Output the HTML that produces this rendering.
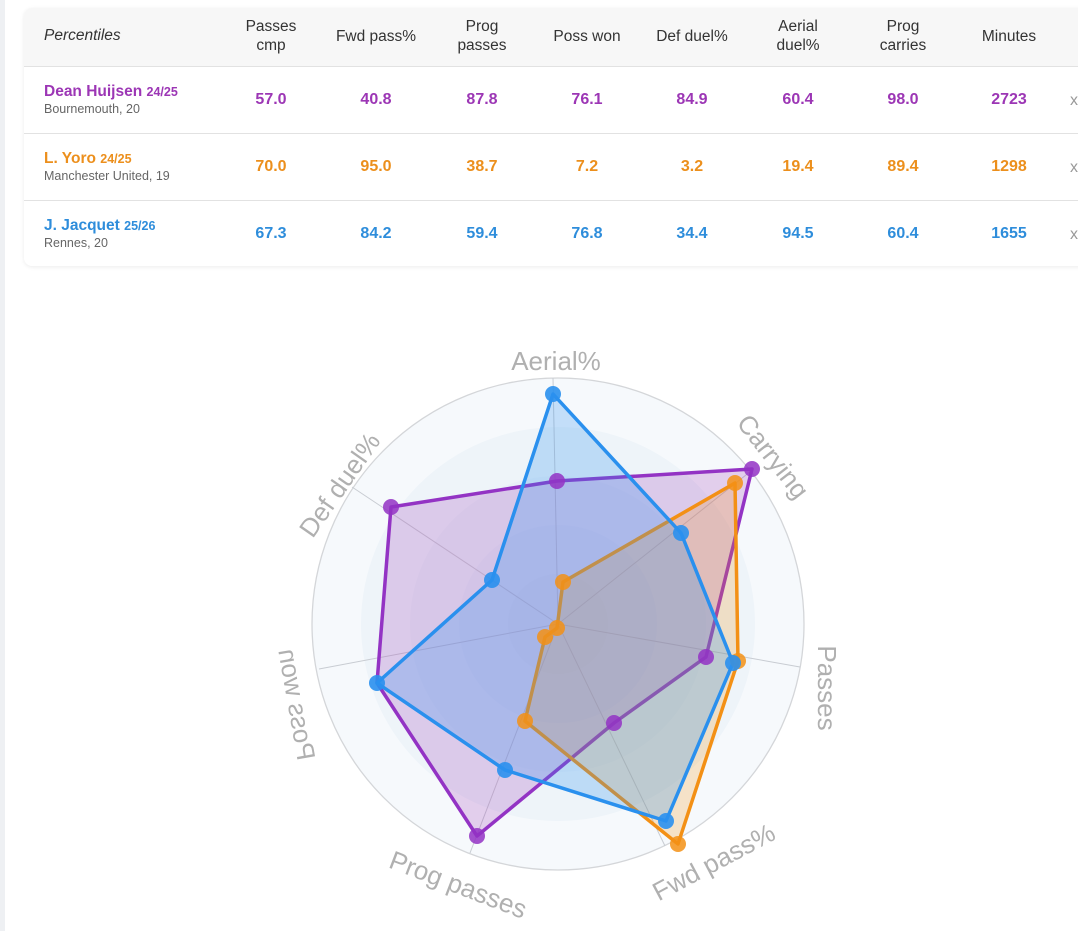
<!DOCTYPE html>
<html><head><meta charset="utf-8"><style>
body{margin:0;width:1078px;height:931px;background:#fff;font-family:"Liberation Sans",sans-serif;position:relative;overflow:hidden}
.strip{position:absolute;left:0;top:0;width:5px;height:931px;background:#eef0f3}
.card{position:absolute;left:24px;top:8px;width:1080px;height:258px;background:#fff;border-radius:8px;box-shadow:0 1px 4px rgba(0,0,0,.08);overflow:hidden}
.hdr{position:absolute;left:0;top:0;width:100%;height:58px;background:#f7f7f7;border-bottom:1px solid #e2e2e2}
.c{position:absolute;text-align:center;transform:translateX(-50%);white-space:nowrap}
.h{font-size:15.5px;color:#333;line-height:19px}
.v{font-size:16px;font-weight:bold}
.row{position:absolute;left:0;width:100%;height:66px;border-bottom:1px solid #e2e2e2}
.nm{position:absolute;left:20px;top:16px;font-size:15.5px;font-weight:bold;white-space:nowrap}
.nm small{font-size:12.5px}
.sub{position:absolute;left:20px;top:35px;font-size:12.5px;color:#666;font-weight:normal;white-space:nowrap}
.x{position:absolute;left:1046px;font-size:16px;color:#999}
</style></head><body>
<div class="strip"></div>
<div class="card">
 <div class="hdr">
  <div style="position:absolute;left:20px;top:19px;font-size:15.5px;font-style:italic;color:#333">Percentiles</div>
  <div class="c h" style="left:247px;top:9px">Passes<br>cmp</div>
  <div class="c h" style="left:352px;top:19px">Fwd pass%</div>
  <div class="c h" style="left:458px;top:9px">Prog<br>passes</div>
  <div class="c h" style="left:563px;top:19px">Poss won</div>
  <div class="c h" style="left:668px;top:19px">Def duel%</div>
  <div class="c h" style="left:774px;top:9px">Aerial<br>duel%</div>
  <div class="c h" style="left:879px;top:9px">Prog<br>carries</div>
  <div class="c h" style="left:985px;top:19px">Minutes</div>
 </div>
 <div class="row" style="top:59px;color:#9c36b5">
  <div class="nm">Dean Huijsen <small>24/25</small><div class="sub" style="left:0;top:19px">Bournemouth, 20</div></div>
  <div class="c v" style="left:247px;top:24px">57.0</div><div class="c v" style="left:352px;top:24px">40.8</div><div class="c v" style="left:458px;top:24px">87.8</div><div class="c v" style="left:563px;top:24px">76.1</div><div class="c v" style="left:668px;top:24px">84.9</div><div class="c v" style="left:774px;top:24px">60.4</div><div class="c v" style="left:879px;top:24px">98.0</div><div class="c v" style="left:985px;top:24px">2723</div><div class="x" style="top:25px">x</div>
 </div>
 <div class="row" style="top:126px;color:#ec8f1c">
  <div class="nm">L. Yoro <small>24/25</small><div class="sub" style="left:0;top:19px">Manchester United, 19</div></div>
  <div class="c v" style="left:247px;top:24px">70.0</div><div class="c v" style="left:352px;top:24px">95.0</div><div class="c v" style="left:458px;top:24px">38.7</div><div class="c v" style="left:563px;top:24px">7.2</div><div class="c v" style="left:668px;top:24px">3.2</div><div class="c v" style="left:774px;top:24px">19.4</div><div class="c v" style="left:879px;top:24px">89.4</div><div class="c v" style="left:985px;top:24px">1298</div><div class="x" style="top:25px">x</div>
 </div>
 <div class="row" style="top:193px;color:#2e8ddb;border-bottom:none">
  <div class="nm">J. Jacquet <small>25/26</small><div class="sub" style="left:0;top:19px">Rennes, 20</div></div>
  <div class="c v" style="left:247px;top:24px">67.3</div><div class="c v" style="left:352px;top:24px">84.2</div><div class="c v" style="left:458px;top:24px">59.4</div><div class="c v" style="left:563px;top:24px">76.8</div><div class="c v" style="left:668px;top:24px">34.4</div><div class="c v" style="left:774px;top:24px">94.5</div><div class="c v" style="left:879px;top:24px">60.4</div><div class="c v" style="left:985px;top:24px">1655</div><div class="x" style="top:25px">x</div>
 </div>
</div>
<svg width="1078" height="931" style="position:absolute;left:0;top:0">
 <circle cx="558" cy="624" r="246" fill="#f6f9fc" stroke="#d4d6d9" stroke-width="1.3"/>
 <circle cx="558" cy="624" r="197" fill="#eef4f9"/>
 <circle cx="558" cy="624" r="148" fill="#e8f0f7"/>
 <circle cx="558" cy="624" r="99" fill="#e3ecf5"/>
 <circle cx="558" cy="624" r="50" fill="#dfe9f3"/>
 <g stroke="#c8ccd2" stroke-width="1">
  <line x1="558" y1="624" x2="553" y2="378"/><line x1="558" y1="624" x2="751" y2="471"/>
  <line x1="558" y1="624" x2="800" y2="667"/><line x1="558" y1="624" x2="665" y2="846"/>
  <line x1="558" y1="624" x2="470" y2="853"/><line x1="558" y1="624" x2="319" y2="669"/>
  <line x1="558" y1="624" x2="352" y2="487"/>
 </g>
 <polygon points="557,481 752,469 706,657 614,723 477,836 377,683 391,507" fill="rgba(156,54,181,0.22)" stroke="#9333c4" stroke-width="3.5" stroke-linejoin="round"/>
 <polygon points="563,582 735,483 738,661 678,844 525,721 545,637 557,628" fill="rgba(240,144,20,0.22)" stroke="#f39015" stroke-width="3.5" stroke-linejoin="round"/>
 <polygon points="553,394 681,533 733,663 666,821 505,770 377,683 492,580" fill="rgba(45,145,240,0.25)" stroke="#2a90ee" stroke-width="3.5" stroke-linejoin="round"/>
 <g fill="#9333c4" fill-opacity=".85"><circle cx="557" cy="481" r="8"/><circle cx="752" cy="469" r="8"/><circle cx="706" cy="657" r="8"/><circle cx="614" cy="723" r="8"/><circle cx="477" cy="836" r="8"/><circle cx="391" cy="507" r="8"/></g>
 <g fill="#f39015" fill-opacity=".85"><circle cx="563" cy="582" r="8"/><circle cx="735" cy="483" r="8"/><circle cx="738" cy="661" r="8"/><circle cx="678" cy="844" r="8"/><circle cx="525" cy="721" r="8"/><circle cx="545" cy="637" r="8"/><circle cx="557" cy="628" r="8"/></g>
 <g fill="#2a90ee" fill-opacity=".9"><circle cx="553" cy="394" r="8"/><circle cx="681" cy="533" r="8"/><circle cx="733" cy="663" r="8"/><circle cx="666" cy="821" r="8"/><circle cx="505" cy="770" r="8"/><circle cx="377" cy="683" r="8"/><circle cx="492" cy="580" r="8"/></g>
 <g fill="#b0b0b0" font-family="Liberation Sans, sans-serif" font-size="26" text-anchor="middle">
  <text x="556" y="370">Aerial%</text>
  <text transform="translate(766,462) rotate(52)">Carrying</text>
  <text transform="translate(818,688) rotate(90)">Passes</text>
  <text transform="translate(718,870) rotate(-28)">Fwd pass%</text>
  <text transform="translate(455,893) rotate(21)">Prog passes</text>
  <text transform="translate(288,706) scale(-1,1) rotate(-80)">Poss won</text>
  <text transform="translate(347,490) rotate(-55)">Def duel%</text>
 </g>
</svg>
</body></html>
